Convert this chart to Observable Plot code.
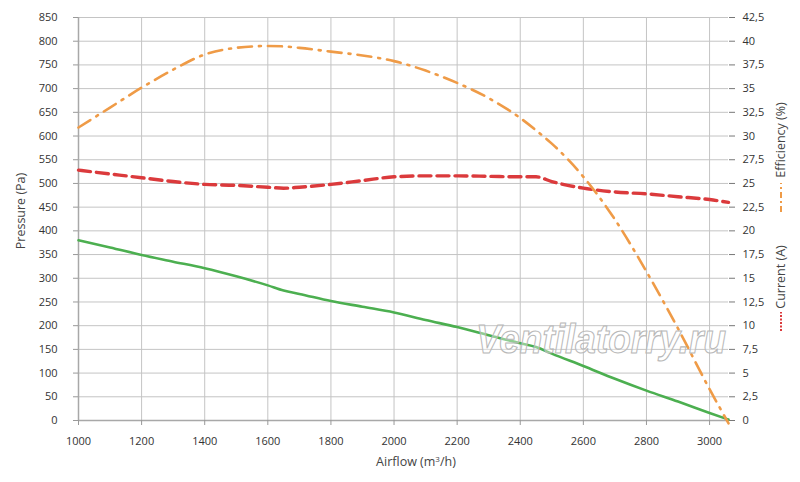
<!DOCTYPE html>
<html>
<head>
<meta charset="utf-8">
<script src="https://cdn.jsdelivr.net/npm/d3@7"></script>
<script src="https://cdn.jsdelivr.net/npm/@observablehq/plot@0.6"></script>
<style>
  html, body { margin: 0; padding: 0; background: #fff; }
  #chart svg { display: block; }
</style>
</head>
<body>
<div id="chart"></div>
<script>
// Airflow sample points (m³/h)
const airflow    = [1000, 1100, 1200, 1300, 1400, 1500, 1600, 1650, 1700, 1800, 1900, 2000, 2100, 2200, 2300, 2400, 2450, 2500, 2600, 2700, 2800, 2900, 3000, 3060];
// Pressure (Pa) — left axis
const pressure   = [380, 365, 349, 335, 321, 304, 285, 274, 267, 252, 240, 228, 212, 197, 180, 163, 155, 141, 115, 88, 63, 40, 16, 2];
// Efficiency (%) — right axis
const efficiency = [30.9, 33.0, 35.1, 37.0, 38.6, 39.3, 39.5, 39.45, 39.3, 38.9, 38.5, 37.9, 36.9, 35.6, 34.0, 31.9, 30.6, 29.2, 25.7, 21.2, 15.7, 9.7, 3.3, -0.3];
// Current (A) — right axis
const current    = [26.4, 26.0, 25.6, 25.2, 24.9, 24.8, 24.6, 24.5, 24.6, 24.9, 25.3, 25.7, 25.8, 25.8, 25.75, 25.7, 25.7, 25.2, 24.5, 24.1, 23.9, 23.6, 23.3, 23.0];

const xTicks = [1000, 1200, 1400, 1600, 1800, 2000, 2200, 2400, 2600, 2800, 3000];
const yTicks = [0, 50, 100, 150, 200, 250, 300, 350, 400, 450, 500, 550, 600, 650, 700, 750, 800, 850];
const rightFactor = 20; // 42,5 on the right matches 850 on the left

const pressureData = airflow.map((a, i) => ({airflow: a, value: pressure[i]}));
const efficiencyData = airflow.map((a, i) => ({airflow: a, value: efficiency[i] * rightFactor}));
const currentData = airflow.map((a, i) => ({airflow: a, value: current[i] * rightFactor}));

const fmtComma = d => String(+(d / rightFactor).toFixed(2)).replace(".", ",");

const chart = Plot.plot({
  width: 800,
  height: 482,
  marginLeft: 78,
  marginRight: 72,
  marginTop: 17,
  marginBottom: 62,
  style: {fontFamily: "'Open Sans', sans-serif", fontSize: "11px", color: "#333", background: "#fff"},
  x: {domain: [1000, 3060]},
  y: {domain: [0, 850]},
  marks: [
    Plot.ruleY(yTicks, {stroke: "#c4c4c4", strokeWidth: 1}),
    Plot.ruleX(xTicks, {stroke: "#c4c4c4", strokeWidth: 1}),
    Plot.ruleX([1000], {stroke: "#a8a8a8", strokeWidth: 1.5}),
    Plot.ruleY([0], {stroke: "#a8a8a8", strokeWidth: 1.5}),
    Plot.axisX({ticks: xTicks, tickSize: 5, tickPadding: 12, tickFormat: d => String(d), label: null, stroke: "#999", color: "#333", fontSize: 11}),
    Plot.axisY({ticks: yTicks, anchor: "left", tickSize: 5, tickPadding: 16, tickFormat: d => String(d), label: null, stroke: "#999", fontSize: 11}),
    Plot.axisY({ticks: yTicks, anchor: "right", tickSize: 6, tickPadding: 8, tickFormat: fmtComma, label: null, stroke: "#777", fontSize: 11}),
    Plot.line(pressureData, {x: "airflow", y: "value", stroke: "#4caf50", strokeWidth: 2.6, curve: "monotone-x"}),
    Plot.line(currentData, {x: "airflow", y: "value", stroke: "#db3a3c", strokeWidth: 3.4, strokeDasharray: "12,6", curve: "monotone-x"}),
    Plot.line(efficiencyData, {x: "airflow", y: "value", stroke: "#ef9b47", strokeWidth: 2.6, strokeDasharray: "14,7,2,7", curve: "monotone-x"})
  ]
});

document.getElementById("chart").appendChild(chart);

const svg = d3.select(chart);
const lblFont = "'Open Sans', sans-serif";

// Watermark
svg.append("text")
  .attr("transform", "translate(476,353) scale(1,1.12)")
  .attr("text-anchor", "start")
  .attr("font-family", "'Liberation Sans', Arial, sans-serif")
  .attr("font-style", "italic")
  .attr("font-weight", "bold")
  .attr("font-size", 37)
  .attr("fill", "#ffffff").attr("fill-opacity", 0.4)
  .attr("stroke", "#b8b8b8").attr("stroke-width", 1)
  .text("Ventilatorry.ru");

// Axis titles
svg.append("text")
  .attr("x", 416).attr("y", 466)
  .attr("text-anchor", "middle")
  .attr("font-family", lblFont).attr("font-size", 12.5).attr("fill", "#444")
  .html("Airflow (m<tspan dy='-4' font-size='8'>3</tspan><tspan dy='4'>/h)</tspan>");

svg.append("text")
  .attr("transform", "translate(25,211) rotate(-90)")
  .attr("text-anchor", "middle")
  .attr("font-family", lblFont).attr("font-size", 12.5).attr("fill", "#444")
  .text("Pressure (Pa)");

// Right-side legend titles
svg.append("text")
  .attr("transform", "translate(785,140) rotate(-90)")
  .attr("text-anchor", "middle")
  .attr("font-family", lblFont).attr("font-size", 12.5).attr("fill", "#444")
  .text("Efficiency (%)");
svg.append("line")
  .attr("x1", 781).attr("x2", 781).attr("y1", 212).attr("y2", 183)
  .attr("stroke", "#ef9b47").attr("stroke-width", 2)
  .attr("stroke-dasharray", "6,3,2,3");

svg.append("text")
  .attr("transform", "translate(785,277) rotate(-90)")
  .attr("text-anchor", "middle")
  .attr("font-family", lblFont).attr("font-size", 12.5).attr("fill", "#444")
  .text("Current (A)");
svg.append("line")
  .attr("x1", 781).attr("x2", 781).attr("y1", 331).attr("y2", 312)
  .attr("stroke", "#db3a3c").attr("stroke-width", 2)
  .attr("stroke-dasharray", "2,1.5");
</script>
</body>
</html>
